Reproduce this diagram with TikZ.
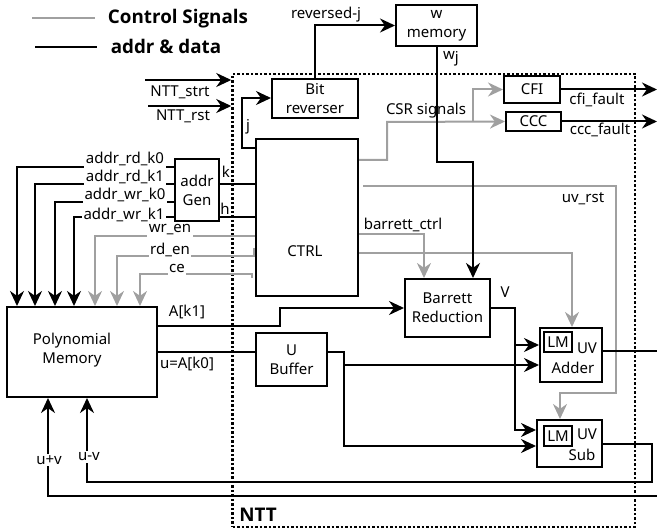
\documentclass[tikz,border=0pt]{standalone}
\usepackage{fontspec}
\setmainfont{Noto Sans}
\newfontfamily\legendfont{Open Sans}
\usetikzlibrary{arrows.meta}
\definecolor{ctlgray}{RGB}{160,160,160}
\begin{document}
\begin{tikzpicture}[x=1pt,y=-1pt,
  font=\fontsize{15}{19}\selectfont,
  >={Stealth[length=15pt,width=14pt]},
  blk/.style={draw=black,line width=2pt},
  gry/.style={draw=ctlgray,line width=2pt},
  box/.style={draw,line width=2pt,inner sep=0pt,align=center},
  lbl/.style={inner sep=1pt},
  lblw/.style={fill=white,inner sep=1.5pt},
  legend/.style={inner sep=0pt,font=\legendfont\bfseries\fontsize{18.8}{21}\selectfont}
]
\useasboundingbox (0,0) rectangle (657,529);

% legend
\node[legend] (lg1) at (178,19) {Control Signals};
\node[legend] (lg2) at (166,46) {addr \& data};
\draw[gry] (32,18) -- (95,18);
\draw[blk] (35,47) -- (97,47);

% NTT container
\node[draw,line width=2.5pt,dash pattern=on 2.5pt off 2pt,minimum width=402.5pt,minimum height=453pt,inner sep=0pt] (ntt) at (433.75,300.5) {};
\node[legend] (nttl) at (258,515) {NTT};

% blocks
\node[box,minimum width=86pt,minimum height=39pt] (bitrev) at (315,98.5) {Bit\\reverser};
\node[box,minimum width=81pt,minimum height=41pt] (wmem) at (436.5,25.5) {w\\memory};
\node[box,minimum width=56pt,minimum height=27pt] (cfi) at (532,89.5) {CFI};
\node[box,minimum width=55pt,minimum height=19pt] (ccc) at (533.5,121.5) {CCC};
\node[box,minimum width=102pt,minimum height=157pt] (ctrl) at (307,217.5) {};
\node[lbl] (ctrlt) at (305,251) {CTRL};
\node[box,minimum width=44pt,minimum height=62pt] (addrgen) at (197,190) {addr\\Gen};
\node[box,minimum width=150pt,minimum height=90pt] (poly) at (82,352) {};
\node[lbl,align=center] (polyt) at (72,350) {Polynomial\\Memory};
\node[box,minimum width=71pt,minimum height=53pt] (ubuf) at (291.5,359.5) {U\\Buffer};
\node[box,minimum width=85pt,minimum height=58pt] (barrett) at (447.5,308) {Barrett\\Reduction};
\node[box,minimum width=62pt,minimum height=54pt] (adder) at (571,355) {};
\node[box,minimum width=28pt,minimum height=20pt] (lm1) at (558,342) {LM};
\node[lbl] (addt1) at (587,348) {UV};
\node[lbl] (addt2) at (573,368) {Adder};
\node[box,minimum width=65pt,minimum height=47pt] (sub) at (569.5,443.5) {};
\node[box,minimum width=28pt,minimum height=20pt] (lm2) at (558,436) {LM};
\node[lbl] (subt1) at (587,434) {UV};
\node[lbl] (subt2) at (582,455) {Sub};

% free ends and junctions
\coordinate (strtin) at (145,80);
\coordinate (rstin) at (148,106);
\coordinate (csrj) at (473,122);
\coordinate (cfiout) at (657,89.5);
\coordinate (cccout) at (657,121.5);
\coordinate (uvr) at (363,186);
\coordinate (rdst) at (254,248);
\coordinate (cest) at (252,278);
\coordinate (uj) at (344,365);
\coordinate (vj) at (515,345);
\coordinate (addout) at (657,351);
\coordinate (uvin) at (657,496);

% control (gray) connectors
\draw[gry,->] (ctrl.east |- 0,160) -| (387,122) -- (ccc.west);
\draw[gry,->] (csrj) |- (cfi.west);
\draw[gry,->] (uvr) -| (616,393) -| (sub.north -| 560,0);
\draw[gry,->] (ctrl.east |- 0,234) -| (barrett.north -| 424,0);
\draw[gry,->] (ctrl.east |- 0,253) -| (adder.north -| 572,0);
\draw[gry,->] (ctrl.west |- 0,236) -| (poly.north -| 95,0);
\draw[gry,->] (rdst) -- (254,256) -| (poly.north -| 117,0);
\draw[gry,->] (cest) -- (252,274) -| (poly.north -| 140,0);

% data (black) connectors
\draw[blk,->] (strtin) -- (ntt.west |- 0,80);
\draw[blk,->] (rstin) -- (ntt.west |- 0,106);
\draw[blk,->] (bitrev.north) |- (wmem.west);
\draw[blk,->] (wmem.south) |- (473,162) -- (barrett.north -| 473,0);
\draw[blk,->] (cfi.east) -- (cfiout);
\draw[blk,->] (ccc.east) -- (cccout);
\draw[blk,->] (ctrl.west |- 0,148) -| (242,98) -- (bitrev.west |- 0,98);
\draw[blk] (ctrl.west |- 0,184) -- (addrgen.east |- 0,184);
\draw[blk] (ctrl.west |- 0,217) -- (addrgen.east |- 0,217);
\draw[blk,->] (addrgen.west |- 0,167) -| (poly.north -| 17,0);
\draw[blk,->] (addrgen.west |- 0,184) -| (poly.north -| 35,0);
\draw[blk,->] (addrgen.west |- 0,202) -| (poly.north -| 55,0);
\draw[blk,->] (addrgen.west |- 0,217) -| (poly.north -| 74,0);
\draw[blk,->] (poly.east |- 0,326) -| (280,308) -- (barrett.west);
\draw[blk] (poly.east |- 0,352) -- (ubuf.west |- 0,352);
\draw[blk,->] (ubuf.east |- 0,352) -| (344,446) -- (sub.west |- 0,446);
\draw[blk,->] (uj) -- (adder.west |- 0,365);
\draw[blk,->] (barrett.east |- 0,308) -| (515,430) -- (sub.west |- 0,430);
\draw[blk,->] (vj) -- (adder.west |- 0,345);
\draw[blk] (adder.east |- 0,351) -- (addout);
\draw[blk,->] (sub.east |- 0,444) -| (652,482) -| (poly.south -| 87,0);
\draw[blk,->] (uvin) -| (poly.south -| 48,0);

% labels
\node[lbl] (l1) at (180,92) {NTT\_strt};
\node[lbl] (l2) at (183,116) {NTT\_rst};
\node[lbl] (l3) at (326,15) {reversed-j};
\node[lbl] (l4) at (451,59) {w\raisebox{-3pt}{j}};
\node[lbl] (l5) at (426,111) {CSR signals};
\node[lbl] (l6) at (597,100) {cfi\_fault};
\node[lbl] (l7) at (600,130) {ccc\_fault};
\node[lbl] (l8) at (248,127) {j};
\node[lbl] (l9) at (226,172) {k};
\node[lbl] (l10) at (225,209) {h};
\node[lblw,anchor=base] (a1) at (125,164) {addr\_rd\_k0};
\node[lblw,anchor=base] (a2) at (125,182) {addr\_rd\_k1};
\node[lblw,anchor=base] (a3) at (125,200) {addr\_wr\_k0};
\node[lblw,anchor=base] (a4) at (124,220) {addr\_wr\_k1};
\node[lblw,anchor=base] (c1) at (170,233) {wr\_en};
\node[lblw,anchor=base] (c2) at (170,255) {rd\_en};
\node[lblw,anchor=base] (c3) at (177,273) {ce};
\node[lbl] (l11) at (403,225) {barrett\_ctrl};
\node[lbl] (l12) at (583,199) {uv\_rst};
\node[lbl] (l13) at (505,292) {V};
\node[lbl] (l14) at (187,312) {A[k1]};
\node[lbl] (l15) at (187,364) {u=A[k0]};
\node[lblw] (l16) at (49,460) {u+v};
\node[lblw] (l17) at (89,457) {u-v};
\end{tikzpicture}
\end{document}
